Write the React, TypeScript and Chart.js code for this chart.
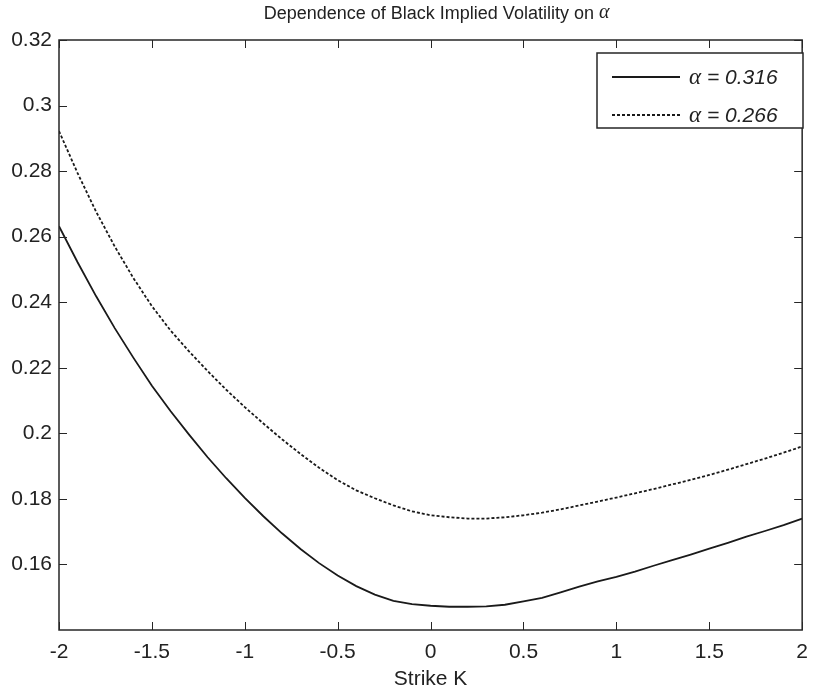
import React, { useEffect, useRef } from "react";
import { Chart, registerables } from "chart.js";

Chart.register(...registerables);

const K = [
  -2.0, -1.9, -1.8, -1.7, -1.6, -1.5, -1.4, -1.3, -1.2, -1.1, -1.0, -0.9, -0.8, -0.7, -0.6, -0.5, -0.4, -0.3, -0.2, -0.1,
  0.0, 0.1, 0.2, 0.3, 0.4, 0.5, 0.6, 0.7, 0.8, 0.9, 1.0, 1.1, 1.2, 1.3, 1.4, 1.5, 1.6, 1.7, 1.8, 1.9, 2.0,
];

const VOL_ALPHA_316 = [
  0.2632, 0.2522, 0.2418, 0.2321, 0.2231, 0.2145, 0.2068, 0.1996, 0.1927, 0.1863, 0.1803, 0.1747, 0.1695, 0.1647,
  0.1604, 0.1566, 0.1534, 0.1508, 0.1489, 0.1479, 0.1474, 0.1471, 0.1471, 0.1472, 0.1477, 0.1487, 0.1498, 0.1515,
  0.1532, 0.1548, 0.1562, 0.1578, 0.1596, 0.1613, 0.163, 0.1648, 0.1666, 0.1685, 0.1702, 0.172, 0.174,
];

const VOL_ALPHA_266 = [
  0.2922, 0.2794, 0.2676, 0.257, 0.2474, 0.2388, 0.2314, 0.225, 0.219, 0.2133, 0.208, 0.203, 0.1982, 0.1937, 0.1895,
  0.1857, 0.1826, 0.1802, 0.178, 0.1762, 0.175, 0.1744, 0.174, 0.174, 0.1744, 0.175, 0.1758, 0.1768, 0.178, 0.1792,
  0.1804, 0.1817, 0.183, 0.1844, 0.1858, 0.1873, 0.1889, 0.1906, 0.1923, 0.1941, 0.196,
];

const SERIES_LABELS = ["0.316", "0.266"];
const X_TICKS = [-2, -1.5, -1, -0.5, 0, 0.5, 1, 1.5, 2];
const Y_TICKS = [0.16, 0.18, 0.2, 0.22, 0.24, 0.26, 0.28, 0.3, 0.32];
const TITLE_TEXT = "Dependence of Black Implied Volatility on ";
const X_LABEL = "Strike K";

const AXIS_COLOR = "#262626";
const LINE_COLOR = "#1a1a1a";
const SANS = "'Liberation Sans', Arial, Helvetica, sans-serif";
const SERIF = "'Liberation Serif', 'Times New Roman', serif";

const fmt = (v: number) => String(Number(v.toFixed(4)));

const decorPlugin = {
  id: "matlabDecor",
  afterDatasetsDraw(chart: any) {
    const { ctx, chartArea } = chart;
    const { left, right, top, bottom } = chartArea;
    const xs = chart.scales.x;
    const ys = chart.scales.y;
    ctx.save();
    // box
    ctx.strokeStyle = AXIS_COLOR;
    ctx.lineWidth = 1.5;
    ctx.strokeRect(left, top, right - left, bottom - top);
    // inward ticks
    ctx.lineWidth = 1;
    const tl = 8;
    ctx.beginPath();
    X_TICKS.forEach((t) => {
      const px = Math.round(xs.getPixelForValue(t)) + 0.5;
      ctx.moveTo(px, bottom);
      ctx.lineTo(px, bottom - tl);
      ctx.moveTo(px, top);
      ctx.lineTo(px, top + tl);
    });
    Y_TICKS.forEach((t) => {
      const py = Math.round(ys.getPixelForValue(t)) + 0.5;
      ctx.moveTo(left, py);
      ctx.lineTo(left + tl, py);
      ctx.moveTo(right, py);
      ctx.lineTo(right - tl, py);
    });
    ctx.stroke();

    // title
    ctx.fillStyle = "#222";
    ctx.textBaseline = "middle";
    ctx.font = `18px ${SANS}`;
    const w1 = ctx.measureText(TITLE_TEXT).width;
    ctx.font = `italic 20px ${SERIF}`;
    const w2 = ctx.measureText("α").width;
    const cx = (left + right) / 2 + 6;
    const startX = cx - (w1 + w2) / 2;
    ctx.textAlign = "left";
    ctx.font = `18px ${SANS}`;
    ctx.fillText(TITLE_TEXT, startX, 14);
    ctx.font = `italic 20px ${SERIF}`;
    ctx.fillText("α", startX + w1, 13);

    // legend
    const lx0 = 597,
      ly0 = 53,
      lx1 = 803,
      ly1 = 128;
    ctx.fillStyle = "#fff";
    ctx.fillRect(lx0, ly0, lx1 - lx0, ly1 - ly0);
    ctx.strokeStyle = AXIS_COLOR;
    ctx.lineWidth = 1.5;
    ctx.strokeRect(lx0, ly0, lx1 - lx0, ly1 - ly0);
    const rows = [77, 115];
    chart.data.datasets.forEach((ds: any, i: number) => {
      const y = rows[i];
      ctx.strokeStyle = ds.borderColor;
      ctx.lineWidth = ds.borderWidth;
      ctx.setLineDash(ds.borderDash || []);
      ctx.beginPath();
      ctx.moveTo(612, y);
      ctx.lineTo(680, y);
      ctx.stroke();
      ctx.setLineDash([]);
      ctx.fillStyle = "#222";
      ctx.textAlign = "left";
      ctx.font = `italic 23px ${SERIF}`;
      ctx.fillText("α", 689, y + 1);
      const aw = ctx.measureText("α").width;
      ctx.font = `italic 21px ${SANS}`;
      ctx.fillText(" = " + SERIES_LABELS[i], 689 + aw, y + 1);
    });
    ctx.restore();
  },
};

export default function App() {
  const ref = useRef<HTMLCanvasElement>(null);
  useEffect(() => {
    if (!ref.current) return;
    const chart = new Chart(ref.current, {
      type: "line",
      data: {
        datasets: [
          {
            label: "α = " + SERIES_LABELS[0],
            data: K.map((k, i) => ({ x: k, y: VOL_ALPHA_316[i] })),
            borderColor: LINE_COLOR,
            borderWidth: 1.8,
            pointRadius: 0,
            tension: 0,
            fill: false,
          },
          {
            label: "α = " + SERIES_LABELS[1],
            data: K.map((k, i) => ({ x: k, y: VOL_ALPHA_266[i] })),
            borderColor: LINE_COLOR,
            borderWidth: 1.8,
            borderDash: [3, 2],
            pointRadius: 0,
            tension: 0,
            fill: false,
          },
        ],
      },
      options: {
        animation: false,
        responsive: false,
        layout: { padding: { top: 40, right: 10, left: 0, bottom: 0 } },
        plugins: {
          legend: { display: false },
          title: { display: false },
          tooltip: { enabled: false },
        },
        scales: {
          x: {
            type: "linear",
            min: -2,
            max: 2,
            afterBuildTicks: (s: any) => {
              s.ticks = X_TICKS.map((v) => ({ value: v }));
            },
            afterFit: (s: any) => {
              s.height = 63;
            },
            grid: { display: false, drawTicks: false },
            border: { display: false },
            ticks: {
              padding: 10,
              color: "#222",
              font: { family: SANS, size: 21 },
              maxRotation: 0,
              autoSkip: false,
              callback: (v: any) => fmt(Number(v)),
            },
            title: {
              display: true,
              text: X_LABEL,
              color: "#222",
              font: { family: SANS, size: 21 },
              padding: { top: 0, bottom: 1 },
            },
          },
          y: {
            type: "linear",
            min: 0.14,
            max: 0.32,
            afterBuildTicks: (s: any) => {
              s.ticks = Y_TICKS.map((v) => ({ value: v }));
            },
            afterFit: (s: any) => {
              s.width = 59;
            },
            grid: { display: false, drawTicks: false },
            border: { display: false },
            ticks: {
              padding: 7,
              color: "#222",
              font: { family: SANS, size: 21 },
              autoSkip: false,
              callback: (v: any) => fmt(Number(v)),
            },
          },
        },
      },
      plugins: [decorPlugin],
    });
    return () => chart.destroy();
  }, []);
  return (
    <div style={{ position: "absolute", left: 0, top: 0, width: 818, height: 693, background: "#fff" }}>
      <canvas ref={ref} width={818} height={693} style={{ display: "block" }} />
    </div>
  );
}
